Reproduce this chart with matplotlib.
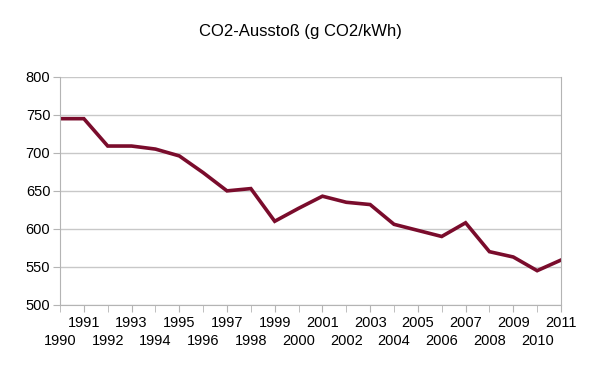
import matplotlib
matplotlib.use("Agg")
import matplotlib.pyplot as plt

plt.rcParams['font.family'] = ['Liberation Sans', 'DejaVu Sans']

# CO2 emissions per kWh
years = list(range(1990, 2012))
co2 = [745, 745, 709, 709, 705, 696, 674, 650, 653, 610, 627,
       643, 635, 632, 606, 598, 590, 608, 570, 563, 545, 559]

odd_years = [y for y in years if y % 2 == 1]
even_years = [y for y in years if y % 2 == 0]

fig = plt.figure(figsize=(6, 3.75), dpi=100)
ax = fig.add_axes([0.1, 0.187, 0.835, 0.608])

ax.plot(years, co2, color='#7a0c2c', linewidth=2.6, solid_joinstyle='miter')

ax.set_xlim(1990, 2011)
ax.set_ylim(500, 800)
ax.set_yticks([500, 550, 600, 650, 700, 750, 800])
ax.yaxis.grid(True, color='#c8c8c8', linewidth=1)
ax.set_axisbelow(True)

# staggered year labels: odd on the upper row, even on the lower row
ax.set_xticks(odd_years)
ax.set_xticklabels([str(y) for y in odd_years])
ax.set_xticks(even_years, minor=True)
ax.set_xticklabels([str(y) for y in even_years], minor=True)
ax.tick_params(axis='x', which='major', length=5, color='#b4b4b4', pad=3, labelsize=10.5)
ax.tick_params(axis='x', which='minor', length=5, color='#b4b4b4', pad=16, labelsize=10.5)
ax.tick_params(axis='y', length=5, color='#b4b4b4', pad=2, labelsize=10.5)

for s in ['left', 'right', 'bottom']:
    ax.spines[s].set_color('#b4b4b4')
ax.spines['top'].set_visible(False)

fig.suptitle('CO2-Ausstoß (g CO2/kWh)', x=0.5, y=0.935, fontsize=12)

fig.savefig('out.png', dpi=100)
